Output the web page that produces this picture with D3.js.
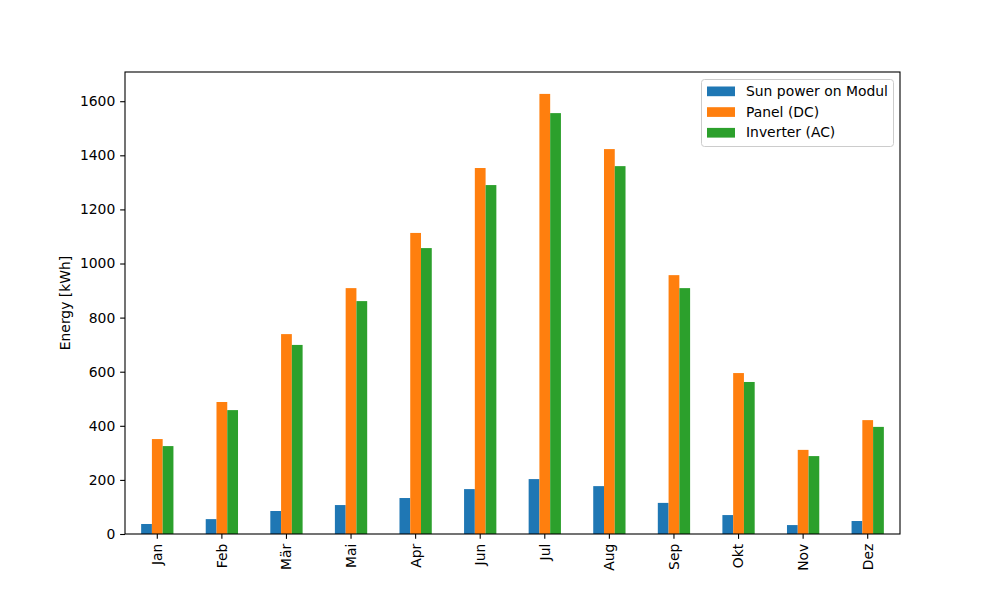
<!DOCTYPE html>
<html><head><meta charset="utf-8">
<script src="https://cdn.jsdelivr.net/npm/d3@7"></script>
<style>body{margin:0;background:#fff}svg{display:block}text{font-family:"DejaVu Sans",sans-serif;fill:#000}</style>
</head><body><svg id="c" width="1000" height="600"></svg>
<script>
const months = ["Jan","Feb","Mär","Mai","Apr","Jun","Jul","Aug","Sep","Okt","Nov","Dez"];
const seriesNames = ["Sun power on Modul","Panel (DC)","Inverter (AC)"];
const sunPower = [37,55,85,107,133,166,203,177,115,70,33,48];
const panelDC = [351,488,739,909,1113,1353,1627,1423,957,595,311,421];
const inverterAC = [325,458,699,861,1057,1290,1556,1360,909,562,288,396];
const yTicks = [0,200,400,600,800,1000,1200,1400,1600];
const colors = ["#1f77b4","#ff7f0e","#2ca02c"];
const yLabel = "Energy [kWh]";

const svg = d3.select("#c");
const L=125,R=900,T=72,B=534;
const fs = 13.9;
const x = d3.scaleBand().domain(months).range([L,R]).padding(0);
const y = d3.scaleLinear().domain([0,1708]).range([B,T]);
const data = [sunPower,panelDC,inverterAC];
const bw = x.bandwidth()/6;

data.forEach((vals,si)=>{
  svg.append("g").selectAll("rect").data(vals).join("rect")
    .attr("x",(d,i)=>x(months[i])+x.bandwidth()/2-1.5*bw+si*bw)
    .attr("width",bw)
    .attr("y",d=>y(d))
    .attr("height",d=>B-y(d))
    .attr("fill",colors[si]);
});

const ax = svg.append("g").attr("transform",`translate(0,${B})`)
  .call(d3.axisBottom(x).tickSize(4.86).tickPadding(4.86));
ax.select(".domain").remove();
ax.selectAll("line").attr("stroke","#000").attr("stroke-width",1.1);
ax.selectAll("text").attr("font-size",fs).attr("font-family","DejaVu Sans")
  .attr("transform","rotate(-90)").attr("text-anchor","end")
  .attr("x",-9.7).attr("y",0).attr("dy","0.35em");

const ay = svg.append("g").attr("transform",`translate(${L},0)`)
  .call(d3.axisLeft(y).tickValues(yTicks).tickSize(4.86).tickPadding(4.86).tickFormat(d3.format("d")));
ay.select(".domain").remove();
ay.selectAll("line").attr("stroke","#000").attr("stroke-width",1.1);
ay.selectAll("text").attr("font-size",fs).attr("font-family","DejaVu Sans");

svg.append("rect").attr("x",L).attr("y",T).attr("width",R-L).attr("height",B-T)
  .attr("fill","none").attr("stroke","#000").attr("stroke-width",1.1);

svg.append("text").attr("transform",`translate(70,${(T+B)/2}) rotate(-90)`)
  .attr("text-anchor","middle").attr("font-size",fs).text(yLabel);

const lg = svg.append("g");
lg.append("rect").attr("x",701.5).attr("y",79.5).attr("width",192).attr("height",67)
  .attr("rx",3).attr("fill","#fff").attr("fill-opacity",0.8).attr("stroke","#ccc").attr("stroke-width",1);
seriesNames.forEach((n,i)=>{
  const cy = 91 + i*20.7;
  lg.append("rect").attr("x",707).attr("y",cy-4.5).attr("width",28).attr("height",9.7).attr("fill",colors[i]);
  lg.append("text").attr("x",746).attr("y",cy).attr("dy","0.35em").attr("font-size",fs).text(n);
});
</script></body></html>
